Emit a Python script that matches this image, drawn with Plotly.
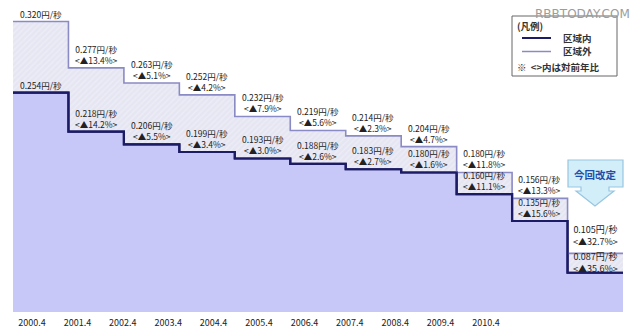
import plotly.graph_objects as go

periods = ["2000.4", "2001.4", "2002.4", "2003.4", "2004.4", "2005.4",
           "2006.4", "2007.4", "2008.4", "2009.4", "2010.4"]
outer_vals = [0.320, 0.277, 0.263, 0.252, 0.232, 0.219, 0.214, 0.204, 0.180, 0.156, 0.105]
inner_vals = [0.254, 0.218, 0.206, 0.199, 0.193, 0.188, 0.183, 0.180, 0.160, 0.135, 0.087]
outer_chg = [None, "13.4", "5.1", "4.2", "7.9", "5.6", "2.3", "4.7", "11.8", "13.3", "32.7"]
inner_chg = [None, "14.2", "5.5", "3.4", "3.0", "2.6", "2.7", "1.6", "11.1", "15.6", "35.6"]

W, H = 640, 331
L, R, T, B = 13, 17, 0, 19
PW, PH = W - L - R, H - T - B

def px(x):
    return (x - L) / PW

def py(y):
    return (H - B - y) / PH

n = len(periods)
xs = list(range(n + 1))
font_jp = "Noto Sans CJK JP"
txt_col = "#222222"

fig = go.Figure()
fig.add_trace(go.Scatter(
    x=xs, y=inner_vals + [inner_vals[-1]], mode="lines", line_shape="hv",
    line=dict(color="#1c1c66", width=2.2), fill="tozeroy", fillcolor="#c8c8f8",
    name="区域内", showlegend=False, hoverinfo="skip"))
fig.add_trace(go.Scatter(
    x=xs, y=outer_vals + [outer_vals[-1]], mode="lines", line_shape="hv",
    line=dict(color="#8a8ac4", width=1.6), fill="tonexty",
    fillcolor="#e6e6f3",
    fillpattern=dict(shape="/", bgcolor="#e6e6f3", fgcolor="#f4f4fa", size=4, solidity=0.3),
    name="区域外", showlegend=False, hoverinfo="skip"))
fig.add_trace(go.Scatter(
    x=xs, y=inner_vals + [inner_vals[-1]], mode="lines", line_shape="hv",
    line=dict(color="#1c1c66", width=2.2), showlegend=False, hoverinfo="skip"))
fig.add_trace(go.Scatter(x=[0], y=[0.1], xaxis="x2", mode="markers",
                         marker=dict(opacity=0), showlegend=False, hoverinfo="skip"))

ann = []

def lab(x, y, text, shift, size, anchor="bottom"):
    ann.append(dict(x=x, y=y, xref="x", yref="y", text=text, showarrow=False,
                    xanchor="center", yanchor=anchor, yshift=shift, borderpad=0,
                    font=dict(family=font_jp, size=size, color=txt_col)))

for i in range(n):
    last = (i == n - 1)
    if i == 0:
        lab(i + 0.5, outer_vals[i], f"{outer_vals[i]:.3f}円/秒", 1, 8.5)
        lab(i + 0.5, inner_vals[i], f"{inner_vals[i]:.3f}円/秒", 1, 8.5)
    elif not last:
        for vals, chg in ((outer_vals, outer_chg), (inner_vals, inner_chg)):
            lab(i + 0.5, vals[i], f"{vals[i]:.3f}円/秒<br>&lt;▲{chg[i]}%&gt;", 1, 8.5)
    else:
        lab(i + 0.5, outer_vals[i],
            f"{outer_vals[i]:.3f}円/秒<br>&lt;▲{outer_chg[i]}%&gt;", 4, 9)
        lab(i + 0.5, outer_vals[i],
            f"{inner_vals[i]:.3f}円/秒<br>&lt;▲{inner_chg[i]}%&gt;", 4, 9, "top")

# legend box
shapes = [
    dict(type="rect", xref="paper", yref="paper", x0=px(512), x1=px(617),
         y0=py(76), y1=py(16), line=dict(color="#666666", width=1),
         fillcolor="rgba(255,255,255,0.95)"),
    dict(type="line", xref="paper", yref="paper", x0=px(522), x1=px(551),
         y0=py(38), y1=py(38), line=dict(color="#1c1c66", width=2)),
    dict(type="line", xref="paper", yref="paper", x0=px(522), x1=px(551),
         y0=py(51.5), y1=py(51.5), line=dict(color="#8a8ac4", width=1.5)),
]
legend_texts = [
    (516, 26, "<b>(凡例)</b>"),
    (562, 38, "<b>区域内</b>"),
    (562, 51.5, "<b>区域外</b>"),
    (516, 67, "<b>※  &lt;&gt;内は対前年比</b>"),
]
for x, y, t in legend_texts:
    ann.append(dict(x=px(x), y=py(y), xref="paper", yref="paper", text=t,
                    showarrow=False, xanchor="left", yanchor="middle", borderpad=0,
                    font=dict(family=font_jp, size=9.5, color="#333333")))

# watermark
ann.append(dict(x=px(631), y=py(14), xref="paper", yref="paper", text="RBBTODAY.COM",
                showarrow=False, xanchor="right", yanchor="middle", borderpad=0,
                font=dict(family="DejaVu Sans", size=12, color="#9c9c9c")))

# callout "今回改定"
pts = [(568, 160), (623, 160), (623, 187), (609, 187), (609, 191), (614, 191),
       (595, 206), (576, 191), (581, 191), (581, 187), (568, 187)]
path = "M " + " L ".join(f"{px(x):.5f},{py(y):.5f}" for x, y in pts) + " Z"
shapes.append(dict(type="path", xref="paper", yref="paper", path=path,
                   fillcolor="#d2eef9", line=dict(color="#98c6e2", width=1.2)))
ann.append(dict(x=px(595.5), y=py(174), xref="paper", yref="paper", text="<b>今回改定</b>",
                showarrow=False, xanchor="center", yanchor="middle", borderpad=0,
                font=dict(family=font_jp, size=10.5, color="#1f4fa8")))

ymin, ymax = 0.0506, 0.340
fig.update_layout(
    width=W, height=H, margin=dict(l=L, r=R, t=T, b=B),
    paper_bgcolor="white", plot_bgcolor="white",
    xaxis=dict(range=[0, n], showgrid=False, zeroline=False, showticklabels=False,
               showline=False, ticks=""),
    xaxis2=dict(overlaying="x", anchor="y", side="bottom",
                range=[(L - 32) / 45.4, (W - R - 32) / 45.4],
                tickvals=list(range(n)), ticktext=periods, showgrid=False,
                zeroline=False, showline=False, ticks="", ticklabelstandoff=4,
                tickfont=dict(family=font_jp, size=9, color=txt_col)),
    yaxis=dict(range=[ymin, ymax], showgrid=False, zeroline=False,
               showticklabels=False, showline=False, ticks=""),
    annotations=ann, shapes=shapes, showlegend=False,
)
fig.write_html("out.html")
